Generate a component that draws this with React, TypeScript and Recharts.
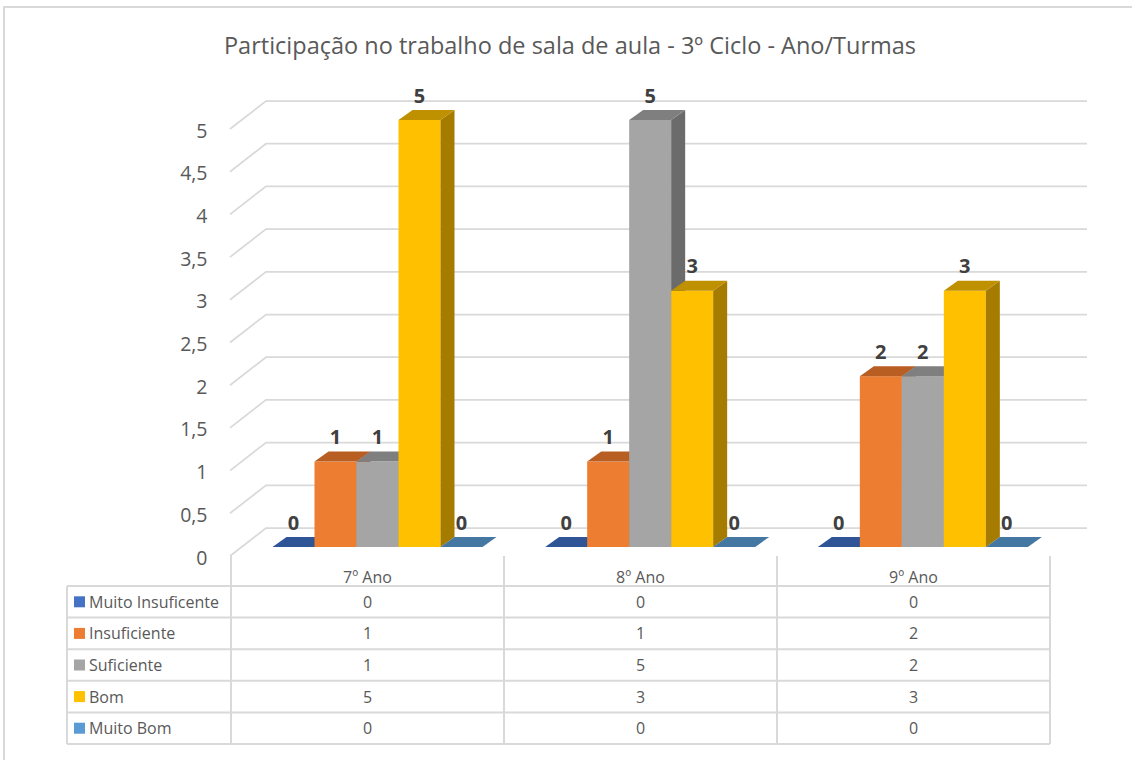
import { BarChart, Bar, XAxis, YAxis, CartesianGrid, LabelList } from 'recharts';

// categories and series
const categories = ['7º Ano', '8º Ano', '9º Ano'];
const seriesNames = ['Muito Insuficente', 'Insuficiente', 'Suficiente', 'Bom', 'Muito Bom'];
const muitoInsuficente = [0, 0, 0];
const insuficiente = [1, 1, 2];
const suficiente = [1, 5, 2];
const bom = [5, 3, 3];
const muitoBom = [0, 0, 0];
const yTicks = [0, 0.5, 1, 1.5, 2, 2.5, 3, 3.5, 4, 4.5, 5];

const seriesValues = [muitoInsuficente, insuficiente, suficiente, bom, muitoBom];
const frontColors = ['#4472C4', '#ED7D31', '#A5A5A5', '#FFC000', '#5B9BD5'];
const topColors = ['#2F5597', '#B85E23', '#7F7F7F', '#BF9000', '#4577A3'];
const sideColors = ['#2A4C87', '#A6531C', '#6B6B6B', '#A57C00', '#3D6A92'];

const data = categories.map((name, i) => {
  const row: Record<string, string | number> = { name };
  seriesValues.forEach((vals, s) => {
    row[`s${s}`] = vals[i];
  });
  return row;
});

const FONT = '"Open Sans", sans-serif';
const TEXT = '#595959';
const LINE = '#D9D9D9';
const DX = 14;
const DY = 10;

function makeBoxShape(s: number) {
  return (p: any) => {
    const { x, y, width: w, height: h } = p;
    if (x == null || y == null) return <g />;
    const hh = Math.max(0, h || 0);
    return (
      <g>
        {hh > 0 && <rect x={x} y={y} width={w} height={hh} fill={frontColors[s]} />}
        {hh > 0 && (
          <path
            d={`M${x + w},${y} L${x + w + DX},${y - DY} L${x + w + DX},${y + hh - DY} L${x + w},${y + hh} Z`}
            fill={sideColors[s]}
          />
        )}
        <path
          d={`M${x},${y} L${x + DX},${y - DY} L${x + w + DX},${y - DY} L${x + w},${y} Z`}
          fill={topColors[s]}
        />
      </g>
    );
  };
}

const valueLabel = (p: any) => {
  const { x, y, width, value } = p;
  return (
    <text
      x={x + width / 2}
      y={y - 25}
      textAnchor="middle"
      dominantBaseline="central"
      fontFamily={FONT}
      fontSize={20}
      fontWeight="bold"
      fill="#404040"
    >
      {value}
    </text>
  );
};

const gridLine = (p: any) => {
  const { x1, x2, y1, index } = p;
  return (
    <path
      key={`grid-${index}-${y1}`}
      d={`M${x1 - 11.5},${y1 + 9} L${x1 + 24.5},${y1 - 19} L${x2 + 27.5},${y1 - 19}`}
      stroke={LINE}
      strokeWidth={1.75}
      fill="none"
    />
  );
};

const yTick = (p: any) => {
  const { x, y, payload } = p;
  return (
    <text
      x={x - 26}
      y={y + 10}
      textAnchor="end"
      dominantBaseline="central"
      fontFamily={FONT}
      fontSize={19.5}
      fill={TEXT}
    >
      {String(payload.value).replace('.', ',')}
    </text>
  );
};

// data table geometry
const tableLeft = 67;
const colEdges = [231, 504, 777, 1050];
const headerTop = 556;
const rowTop = 586;
const rowH = 31.6;

function DataTable() {
  const bottom = rowTop + rowH * seriesNames.length;
  return (
    <svg width={1132} height={760} style={{ position: 'absolute', left: 0, top: 0 }}>
      {colEdges.map((cx) => (
        <line key={`v${cx}`} x1={cx} y1={headerTop} x2={cx} y2={bottom} stroke={LINE} strokeWidth={2} />
      ))}
      <line x1={tableLeft} y1={rowTop} x2={tableLeft} y2={bottom} stroke={LINE} strokeWidth={2} />
      {seriesNames.map((_, r) => (
        <line
          key={`h${r}`}
          x1={tableLeft}
          y1={rowTop + r * rowH}
          x2={colEdges[colEdges.length - 1]}
          y2={rowTop + r * rowH}
          stroke={LINE}
          strokeWidth={2}
        />
      ))}
      <line x1={tableLeft} y1={bottom} x2={colEdges[colEdges.length - 1]} y2={bottom} stroke={LINE} strokeWidth={2} />
      {categories.map((c, i) => (
        <text
          key={c}
          x={(colEdges[i] + colEdges[i + 1]) / 2}
          y={(headerTop + rowTop) / 2 + 6}
          textAnchor="middle"
          dominantBaseline="central"
          fontFamily={FONT}
          fontSize={16}
          fill={TEXT}
        >
          {c}
        </text>
      ))}
      {seriesNames.map((name, r) => {
        const cy = rowTop + r * rowH + rowH / 2;
        return (
          <g key={name}>
            <rect x={74} y={cy - 5.5} width={11} height={11} fill={frontColors[r]} />
            <text x={89} y={cy} dominantBaseline="central" fontFamily={FONT} fontSize={16} fill={TEXT}>
              {name}
            </text>
            {seriesValues[r].map((v, i) => (
              <text
                key={i}
                x={(colEdges[i] + colEdges[i + 1]) / 2}
                y={cy}
                textAnchor="middle"
                dominantBaseline="central"
                fontFamily={FONT}
                fontSize={16}
                fill={TEXT}
              >
                {v}
              </text>
            ))}
          </g>
        );
      })}
    </svg>
  );
}

export default function App() {
  return (
    <div style={{ position: 'absolute', left: 0, top: 0, width: 1132, height: 760, background: '#fff', overflow: 'hidden' }}>
      {/* chart frame: only top and left edges fall inside the picture */}
      <div
        style={{
          position: 'absolute',
          left: 3,
          top: 6,
          width: 1140,
          height: 770,
          borderTop: `2px solid ${LINE}`,
          borderLeft: `2px solid ${LINE}`,
        }}
      />
      <div
        style={{
          position: 'absolute',
          left: 0,
          top: 29,
          width: 1140,
          textAlign: 'center',
          fontFamily: FONT,
          fontSize: 23.5,
          color: TEXT,
          whiteSpace: 'nowrap',
        }}
      >
        Participação no trabalho de sala de aula - 3º Ciclo - Ano/Turmas
      </div>
      <div style={{ position: 'absolute', left: 0, top: 0 }}>
        <BarChart
          width={1132}
          height={760}
          data={data}
          margin={{ top: 120, right: 72.5, bottom: 213, left: 181.5 }}
          barGap={0}
        >
          <CartesianGrid vertical={false} horizontal={gridLine} />
          <XAxis dataKey="name" hide />
          <YAxis
            width={60}
            domain={[0, 5]}
            ticks={yTicks}
            axisLine={false}
            tickLine={false}
            tick={yTick}
            interval={0}
          />
          {seriesNames.map((name, s) => (
            <Bar
              key={name}
              dataKey={`s${s}`}
              name={name}
              fill={frontColors[s]}
              barSize={42}
              shape={makeBoxShape(s)}
              isAnimationActive={false}
            >
              <LabelList dataKey={`s${s}`} content={valueLabel} />
            </Bar>
          ))}
        </BarChart>
      </div>
      <DataTable />
    </div>
  );
}
